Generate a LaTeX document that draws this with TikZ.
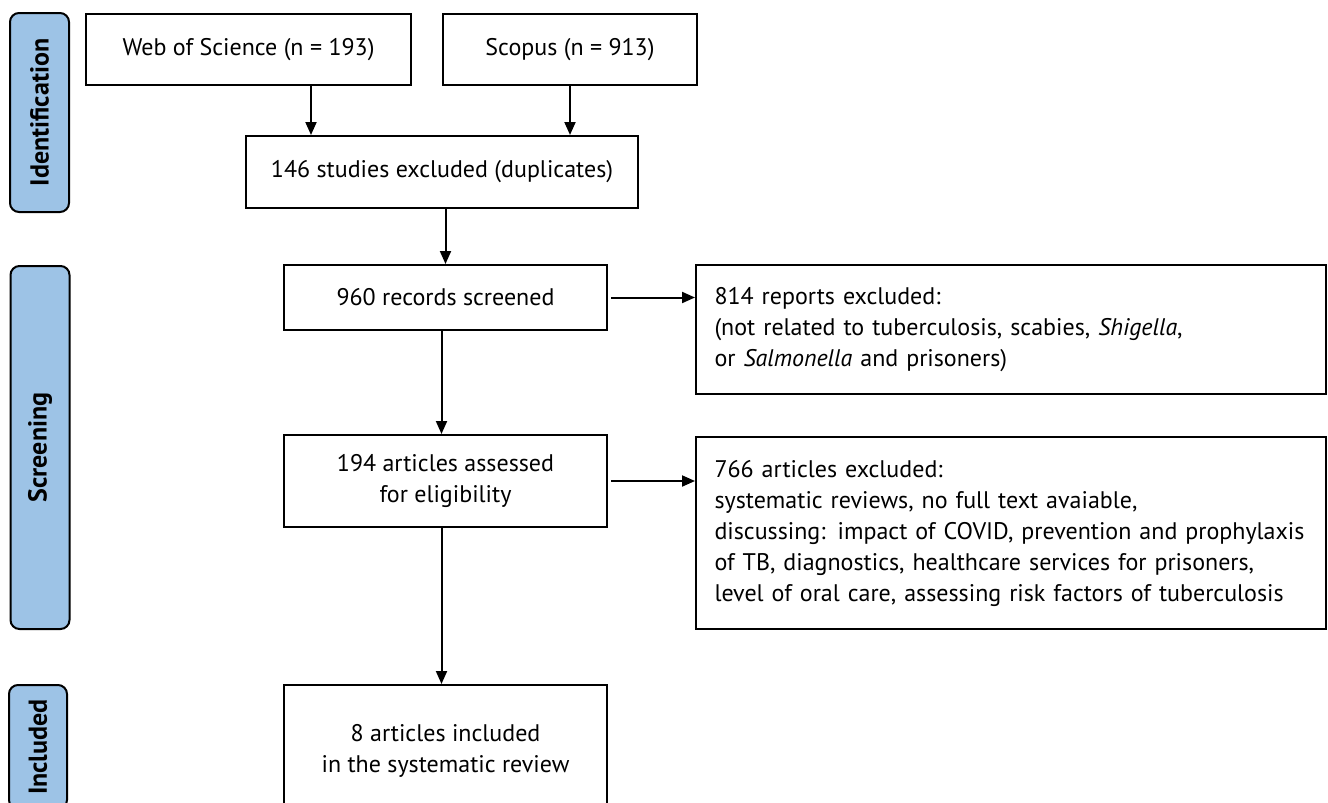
\documentclass[tikz,border=0pt]{standalone}
\usepackage{fontspec}
\setmainfont{PT Sans}
\usetikzlibrary{arrows.meta}
\definecolor{phaseblue}{RGB}{157,195,230}

\begin{document}
\begin{tikzpicture}[x=1pt,y=-1pt]
	 \tikzstyle{box}=[draw,line width=2pt,rectangle,inner sep=0pt,align=center,font=\fontsize{24}{31}\selectfont]
	 \tikzstyle{wide}=[box,align=left,text width=593pt,inner xsep=18.5pt]
	 \tikzstyle{phase}=[draw,line width=2pt,fill=phaseblue,rounded corners=9pt,rotate=90,minimum height=59pt,inner sep=0pt,font=\fontsize{26}{30}\selectfont\bfseries]
	 \tikzstyle{edge}=[draw,line width=2pt,-{Triangle[length=13pt,width=11pt]}]
	 \useasboundingbox (0,0) rectangle (1328,803);
	 \clip (0,0) rectangle (1328,803);
	 % phases
	 \node[phase,minimum width=199pt] (pid) at (39.5,112.5) {Identification};
	 \node[phase,minimum width=363pt] (pscr) at (40,447.5) {Screening};
	 \node[phase,minimum width=124pt,minimum height=58pt] (pinc) at (38,747) {Included};
	 % flow
	 \node[box,minimum width=325pt,minimum height=71pt] (wos) at (248.5,49.5) {Web of Science (n = 193)};
	 \node[box,minimum width=254pt,minimum height=71pt] (scopus) at (570,49.5) {Scopus (n = 913)};
	 \node[box,minimum width=392pt,minimum height=72pt] (dup) at (442,172) {146 studies excluded (duplicates)};
	 \node[box,minimum width=323pt,minimum height=65pt] (scr) at (445.5,297.5) {960 records screened};
	 \node[box,minimum width=323pt,minimum height=92pt] (elig) at (445.5,481) {194 articles assessed\\for eligibility};
	 \node[box,minimum width=323pt,minimum height=132pt] (incl) at (445.5,751) {8 articles included\\in the systematic review};
	 \node[wide,minimum height=129pt] (exa) at (1011,329.5) {814 reports excluded:\\(not related to tuberculosis, scabies, \textit{Shigella},\\or \textit{Salmonella} and prisoners)};
	 \node[wide,minimum height=192pt] (exb) at (1011,533) {766 articles excluded:\\systematic reviews, no full text avaiable,\\discussing: impact of COVID, prevention and prophylaxis\\of TB, diagnostics, healthcare services for prisoners,\\level of oral care, assessing risk factors of tuberculosis};
	 % arrows
	 \draw[edge] ([xshift=62.5pt]wos.south) -- ([xshift=62.5pt]wos.south |- dup.north);
	 \draw[edge] (scopus.south) -- (scopus.south |- dup.north);
	 \draw[edge] (scr.north |- dup.south) -- (scr.north);
	 \draw[edge] ([xshift=-4pt]scr.south) -- ([xshift=-4pt]elig.north);
	 \draw[edge] ([xshift=3pt]scr.east) -- (exa.west |- scr.east);
	 \draw[edge] ([xshift=3pt]elig.east) -- (exb.west |- elig.east);
	 \draw[edge] ([xshift=-4pt]elig.south) -- ([xshift=-4pt]incl.north);
\end{tikzpicture}
\end{document}
